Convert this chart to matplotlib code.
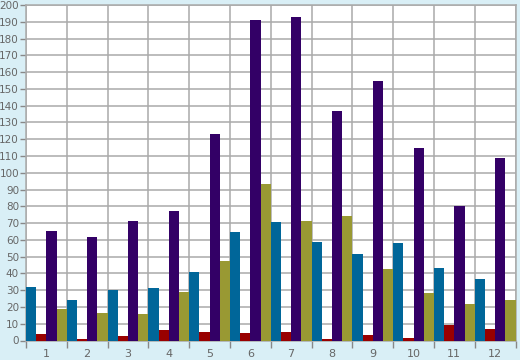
import numpy as np
import matplotlib.pyplot as plt
from matplotlib.ticker import MultipleLocator, FixedLocator

months = [str(i) for i in range(1, 13)]

# series values
blue = [32, 24, 30, 31, 41, 64.5, 70.5, 59, 51.5, 58, 43, 36.5]
red = [4, 1, 2.5, 6, 5, 4.5, 5, 1, 3.5, 1.5, 9.2, 7]
purple = [65, 61.5, 71, 77, 123, 191, 193, 137, 154.5, 115, 80, 108.5]
olive = [19, 16.5, 16, 29, 47.3, 93.3, 71, 74, 42.5, 28.3, 21.8, 24]

bg = '#d9eff6'
fig = plt.figure(figsize=(5.2, 3.6), dpi=100, facecolor=bg)
ax = fig.add_axes([26 / 520, 19.5 / 360, 489.5 / 520, 335.5 / 360])
ax.set_facecolor('white')

x = np.arange(1, 13)
w = 0.25
series = [(blue, '#006699'), (red, '#990000'), (purple, '#330066'), (olive, '#999933')]
for k, (vals, col) in enumerate(series):
    ax.bar(x + (k - 1.5) * w, vals, width=w, color=col, zorder=3, linewidth=0)

ax.set_xlim(0.5, 12.5)
ax.set_ylim(0, 200)
ax.yaxis.set_major_locator(MultipleLocator(10))
ax.set_xticks(x)
ax.set_xticklabels(months)
ax.xaxis.set_minor_locator(FixedLocator(np.arange(0.5, 13, 1)))

ax.grid(True, which='major', axis='y', color='#aaaaaa', linewidth=1.1, zorder=0)
ax.grid(True, which='minor', axis='x', color='#aaaaaa', linewidth=1.1, zorder=0)

ax.tick_params(axis='x', which='major', length=0, pad=6, labelsize=8, labelcolor='#666666')
ax.tick_params(axis='x', which='minor', length=5, width=1, color='#888888')
ax.tick_params(axis='y', length=4, width=1, color='#888888', pad=1, labelsize=7.5, labelcolor='#666666')

for s in ax.spines.values():
    s.set_color('#aaaaaa')
    s.set_linewidth(1.1)

fig.savefig('out.png', dpi=100, facecolor=bg)
